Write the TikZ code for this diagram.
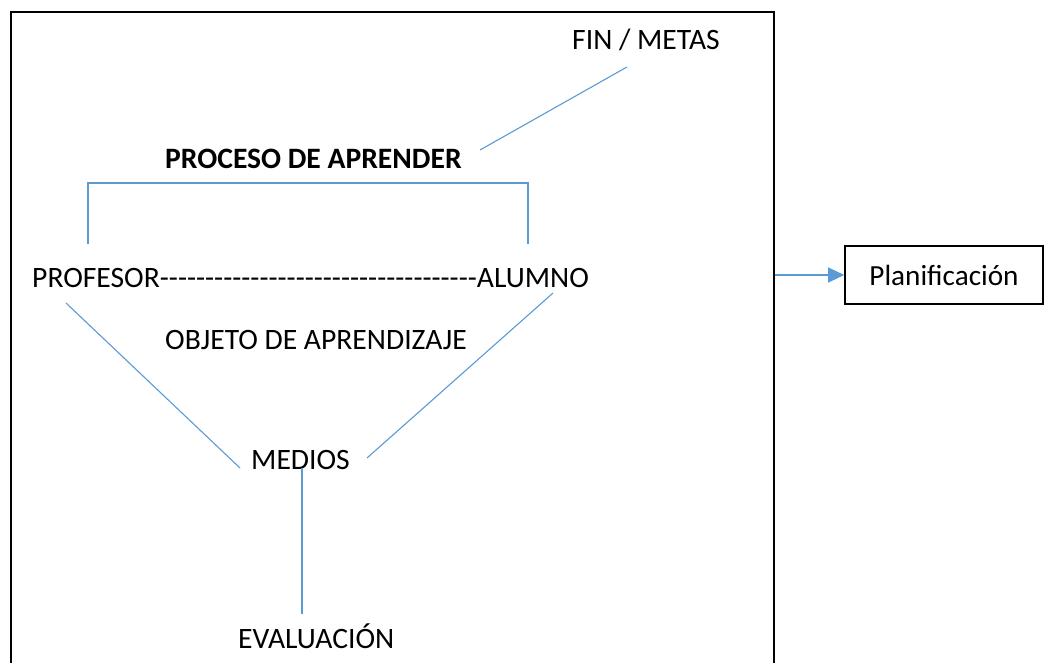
\documentclass[tikz,border=0pt]{standalone}
\usepackage{fontspec}
\setmainfont{Carlito}[Ligatures=TeXOff]
\usetikzlibrary{arrows.meta}
\definecolor{lineblue}{RGB}{91,155,213}
\begin{document}
\begin{tikzpicture}[x=1pt,y=-1pt,
  lbl/.style={inner sep=0pt,anchor=base west,font=\fontsize{29.6}{34}\selectfont},
  conn/.style={draw=lineblue,line width=1.1pt},
  framebox/.style={draw=black,line width=1.6pt,inner sep=0pt,anchor=north west},
  planbox/.style={draw=black,line width=1.6pt,inner sep=0pt,minimum width=198pt,minimum height=58pt,font=\fontsize{29.2}{34}\selectfont}]
\clip (0,0) rectangle (1045,663);
\fill[white] (0,0) rectangle (1045,663);
\node[framebox,minimum width=763pt,minimum height=670pt] (frame) at (10,11) {};
\node[planbox] (plan) at (944,275) {Planificación};
\node[lbl] (fin) at (572,50) {FIN / METAS};
\node[lbl,font=\fontsize{29.6}{34}\selectfont\bfseries] (proceso) at (165,169) {PROCESO DE APRENDER};
\node[lbl] (profalum) at (32,288) {PROFESOR-----------------------------------ALUMNO};
\node[lbl] (objeto) at (165,349) {OBJETO DE APRENDIZAJE};
\node[lbl] (medios) at (251,469) {MEDIOS};
\node[lbl] (eval) at (238,648) {EVALUACIÓN};
\coordinate (finA) at (627,67);
\coordinate (finB) at (480,150);
\coordinate (brA) at (88,244);
\coordinate (brB) at (528,244);
\coordinate (profA) at (66,303);
\coordinate (profB) at (240,468);
\coordinate (alumA) at (553,293);
\coordinate (alumB) at (367,458);
\coordinate (medA) at (302,468);
\coordinate (medB) at (302,614);
\draw[conn] (finA) -- (finB);
\draw[conn] (brA) -- (brA |- 0,183) -- (brB |- 0,183) -- (brB);
\draw[conn] (profA) -- (profB);
\draw[conn] (alumA) -- (alumB);
\draw[conn] (medA) -- (medB);
\draw[conn,-{Triangle[length=16pt,width=15pt]}] (frame.east |- plan.west) -- (plan.west);
\end{tikzpicture}
\end{document}
